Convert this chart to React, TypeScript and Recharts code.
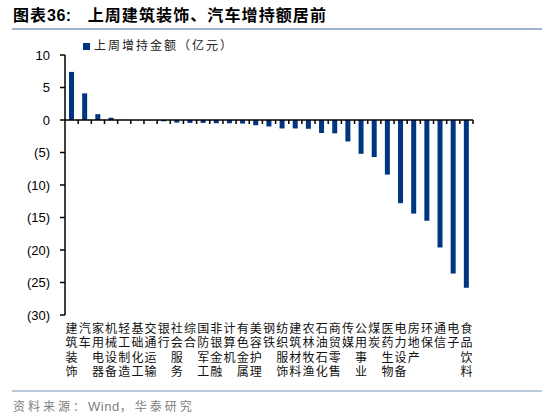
import React from "react";
import { BarChart, Bar, XAxis, YAxis, ReferenceLine, Legend } from "recharts";

const categories = [
  "建筑装饰", "汽车", "家用电器", "机械设备", "轻工制造", "基础化工", "交通运输", "银行",
  "社会服务", "综合", "国防军工", "非银金融", "计算机", "有色金属", "美容护理", "钢铁",
  "纺织服饰", "建筑材料", "农林牧渔", "石油石化", "商贸零售", "传媒", "公用事业", "煤炭",
  "医药生物", "电力设备", "房地产", "环保", "通信", "电子", "食品饮料",
];
const values = [
  7.4, 4.1, 0.9, 0.35, 0.03, -0.03, -0.05, -0.2,
  -0.4, -0.45, -0.45, -0.5, -0.5, -0.55, -0.8, -1.0,
  -1.3, -1.3, -1.35, -2.0, -2.05, -3.3, -5.2, -5.7,
  -8.4, -12.8, -14.4, -15.5, -19.6, -23.6, -25.8,
];
const yTicks = [10, 5, 0, -5, -10, -15, -20, -25, -30];
const seriesName = "上周增持金额（亿元）";

const data = categories.map((name, i) => ({ name, value: values[i] }));

const BAR_COLOR = "#003580";
const CJK = '"Noto Sans CJK SC", "Noto Sans", sans-serif';
const LATIN = '"Liberation Sans", Arial, sans-serif';

const fmtY = (v: number) => (v < 0 ? `(${-v})` : `${v}`);

const CatTick = (props: any) => {
  const { x, y, payload } = props;
  const chars = String(payload.value).split("");
  return (
    <text x={x} y={y} textAnchor="middle" fontSize={12} fontFamily={CJK} fill="#111">
      {chars.map((c, i) => (
        <tspan key={i} x={x} dy={i === 0 ? 4 : 14.3}>
          {c}
        </tspan>
      ))}
    </text>
  );
};

const ZeroLine = (props: any) => {
  const { x1, y1, x2, y2 } = props;
  const n = categories.length;
  const step = (x2 - x1) / n;
  const ticks = [];
  for (let i = 1; i <= n; i++) {
    const tx = x1 + i * step;
    ticks.push(<line key={i} x1={tx} x2={tx} y1={y1} y2={y1 + 4} stroke="#000" strokeWidth={1.5} />);
  }
  return (
    <g>
      <line x1={x1} y1={y1} x2={x2} y2={y2} stroke="#000" strokeWidth={1.5} />
      {ticks}
    </g>
  );
};

export default function App() {
  return (
    <div style={{ position: "absolute", left: 0, top: 0, width: 550, height: 420, background: "#fff", overflow: "hidden" }}>
      <div
        style={{
          position: "absolute", left: 13, top: 4, fontSize: 16, fontWeight: "bold",
          fontFamily: CJK, color: "#000", whiteSpace: "nowrap", lineHeight: "21px",
        }}
      >
        <span style={{ letterSpacing: 1 }}>图表</span>
        <span style={{ fontFamily: LATIN, letterSpacing: 0.5 }}>36:</span>
        <span style={{ marginLeft: 16, letterSpacing: 1.1 }}>上周建筑装饰、汽车增持额居前</span>
      </div>
      <div style={{ position: "absolute", left: 12, top: 28, width: 530, height: 2, background: "#9FB4CC" }} />

      <div style={{ position: "absolute", left: 0, top: 0 }}>
        <BarChart
          width={550}
          height={390}
          data={data}
          margin={{ top: 41, right: 77, bottom: 0, left: 0 }}
          barCategoryGap={0}
        >
          <Legend
            verticalAlign="top"
            align="left"
            iconType="square"
            iconSize={7}
            wrapperStyle={{ position: "absolute", left: 83, top: 38, width: 260, lineHeight: "14px" }}
            formatter={(v: any) => (
              <span style={{ color: "#222", fontSize: 12, fontFamily: CJK, letterSpacing: 2 }}>{v}</span>
            )}
          />
          <XAxis
            dataKey="name"
            interval={0}
            axisLine={false}
            tickLine={false}
            height={75}
            tick={<CatTick />}
            tickMargin={8}
          />
          <YAxis
            domain={[-30, 10]}
            ticks={yTicks}
            interval={0}
            width={65}
            tickFormatter={fmtY}
            axisLine={{ stroke: "#000", strokeWidth: 1.5 }}
            tickLine={{ stroke: "#000", strokeWidth: 1.5 }}
            tickSize={5}
            tickMargin={10}
            tick={{ fontSize: 13, fill: "#000", fontFamily: LATIN }}
          />
          <ReferenceLine y={0} shape={<ZeroLine />} />
          <Bar dataKey="value" name={seriesName} fill={BAR_COLOR} barSize={5} isAnimationActive={false} />
        </BarChart>
      </div>

      <div style={{ position: "absolute", left: 12, top: 390, width: 530, height: 2, background: "#B9C8DA" }} />
      <div
        style={{
          position: "absolute", left: 13, top: 397, fontSize: 12, color: "#808080",
          fontFamily: CJK, whiteSpace: "nowrap", letterSpacing: 3, lineHeight: "18px",
        }}
      >
        资料来源：<span style={{ fontFamily: LATIN, letterSpacing: 0.5, fontSize: 13 }}>Wind</span>，华泰研究
      </div>
    </div>
  );
}
